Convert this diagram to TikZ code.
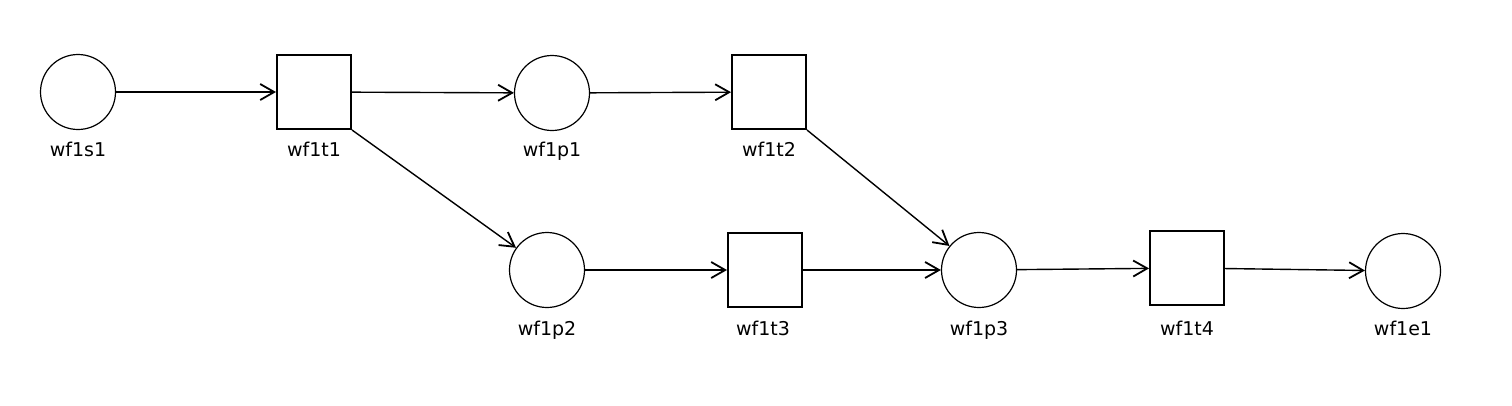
\documentclass[tikz,border=0pt]{standalone}
\usepackage{fontspec}
\setmainfont{DejaVu Sans}
\usetikzlibrary{arrows.meta}
\begin{document}
\begin{tikzpicture}[x=1pt,y=-1pt,
  place/.style={circle,draw,line width=1.2pt,minimum size=75pt,inner sep=0pt},
  trans/.style={rectangle,draw,line width=2pt,minimum size=74pt,inner sep=0pt},
  lbl/.style={font=\fontsize{19}{22}\selectfont,inner sep=0pt,anchor=base},
  arc/.style={line width=1.4pt,-{Straight Barb[length=14pt,width=16pt,line width=1.8pt]}}]
\useasboundingbox (0,0) rectangle (1512,405);
\node[place] (s1) at (78,92) {};
\node[trans] (t1) at (314,92) {};
\node[place] (p1) at (552,93) {};
\node[trans] (t2) at (769,92) {};
\node[place] (p2) at (547,270) {};
\node[trans] (t3) at (765,270) {};
\node[place] (p3) at (979,270) {};
\node[trans] (t4) at (1187,268) {};
\node[place] (e1) at (1403,271) {};
\node[lbl] (ls1) at (78,156) {wf1s1};
\node[lbl] (lt1) at (314,156) {wf1t1};
\node[lbl] (lp1) at (552,156) {wf1p1};
\node[lbl] (lt2) at (769,156) {wf1t2};
\node[lbl] (lp2) at (547,335) {wf1p2};
\node[lbl] (lt3) at (763,335) {wf1t3};
\node[lbl] (lp3) at (979,335) {wf1p3};
\node[lbl] (lt4) at (1187,335) {wf1t4};
\node[lbl] (le1) at (1403,335) {wf1e1};
\draw[arc] (s1) -- (t1);
\draw[arc] (t1) -- (p1);
\draw[arc] (t1.south east) -- (p2);
\draw[arc] (p1) -- (t2);
\draw[arc] (t2.south east) -- (p3);
\draw[arc] (p2) -- (t3);
\draw[arc] (t3) -- (p3);
\draw[arc] (p3) -- (t4);
\draw[arc] (t4) -- (e1);
\end{tikzpicture}
\end{document}
